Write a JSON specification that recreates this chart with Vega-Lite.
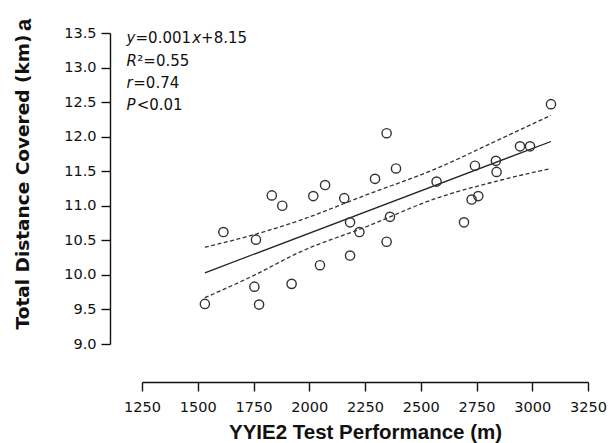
{
  "$schema": "https://vega.github.io/schema/vega-lite/v6.json",
  "width": 446,
  "height": 311,
  "autosize": {"type": "none"},
  "padding": {"left": 142, "top": 33, "right": 26, "bottom": 99},
  "background": "white",
  "resolve": {"axis": {"x": "independent", "y": "independent"}},
  "config": {
    "view": {"stroke": null},
    "axis": {"grid": false, "domainColor": "#111", "tickColor": "#111", "domainWidth": 1.4, "tickWidth": 1.4, "labelColor": "#111", "titleColor": "#111", "labelOverlap": false, "labelFlush": false, "labelFont": "DejaVu Sans", "labelFontSize": 14.5},
    "text": {"font": "DejaVu Sans", "fontSize": 15, "align": "left", "baseline": "middle", "color": "#111"}
  },
  "datasets": {
    "points": [
      {"x": 1532, "y": 9.58}, {"x": 1615, "y": 10.62}, {"x": 1761, "y": 10.51}, {"x": 1754, "y": 9.83},
      {"x": 1775, "y": 9.57}, {"x": 1832, "y": 11.15}, {"x": 1879, "y": 11.0}, {"x": 1921, "y": 9.87},
      {"x": 2018, "y": 11.14}, {"x": 2071, "y": 11.30}, {"x": 2048, "y": 10.14}, {"x": 2157, "y": 11.11},
      {"x": 2183, "y": 10.76}, {"x": 2225, "y": 10.62}, {"x": 2183, "y": 10.28}, {"x": 2295, "y": 11.39},
      {"x": 2347, "y": 12.05}, {"x": 2389, "y": 11.54}, {"x": 2362, "y": 10.84}, {"x": 2347, "y": 10.48},
      {"x": 2571, "y": 11.35}, {"x": 2743, "y": 11.58}, {"x": 2837, "y": 11.65}, {"x": 2840, "y": 11.49},
      {"x": 2945, "y": 11.86}, {"x": 2990, "y": 11.86}, {"x": 3084, "y": 12.47}, {"x": 2728, "y": 11.09},
      {"x": 2758, "y": 11.14}, {"x": 2694, "y": 10.76}
    ],
    "fit": [{"x": 1532, "y": 10.03}, {"x": 3084, "y": 11.93}],
    "band": [
      {"side": "upper", "x": 1532, "y": 10.40}, {"side": "upper", "x": 1750, "y": 10.58},
      {"side": "upper", "x": 1958, "y": 10.79}, {"side": "upper", "x": 2258, "y": 11.16},
      {"side": "upper", "x": 2571, "y": 11.54}, {"side": "upper", "x": 2833, "y": 11.93},
      {"side": "upper", "x": 3084, "y": 12.31},
      {"side": "lower", "x": 1532, "y": 9.67}, {"side": "lower", "x": 1750, "y": 9.99},
      {"side": "lower", "x": 1958, "y": 10.33}, {"side": "lower", "x": 2258, "y": 10.70},
      {"side": "lower", "x": 2571, "y": 11.11}, {"side": "lower", "x": 2833, "y": 11.35},
      {"side": "lower", "x": 3084, "y": 11.54}
    ],
    "annot": [
      {"t": "y", "k": "y1"}, {"t": "=0.001", "k": "e1"}, {"t": "x", "k": "x1"}, {"t": "+8.15", "k": "p1"},
      {"t": "R", "k": "r2"}, {"t": "²=0.55", "k": "e2"}, {"t": "r", "k": "r3"}, {"t": "=0.74", "k": "e3"},
      {"t": "P", "k": "p4"}, {"t": "<0.01", "k": "e4"}, {"t": "a", "k": "lab"}
    ]
  },
  "layer": [
    {
      "data": {"name": "band"},
      "mark": {"type": "line", "strokeDash": [4, 2.5], "color": "#333", "strokeWidth": 1.3, "interpolate": "monotone"},
      "encoding": {
        "x": {
          "field": "x", "type": "quantitative",
          "scale": {"domain": [1250, 3250], "nice": false, "zero": false},
          "axis": {
            "title": "YYIE2 Test Performance (m)", "values": [1250, 1500, 1750, 2000, 2250, 2500, 2750, 3000, 3250],
            "format": "d", "offset": 38, "tickSize": 9, "labelPadding": 9, "labelFlush": false, "labelOverlap": false,
            "titleFont": "Liberation Sans", "titleFontWeight": "bold", "titleFontSize": 20.5, "titlePadding": 9
          }
        },
        "y": {
          "field": "y", "type": "quantitative",
          "scale": {"domain": [9, 13.5], "nice": false, "zero": false},
          "axis": {
            "title": "Total Distance Covered (km)", "values": [9, 9.5, 10, 10.5, 11, 11.5, 12, 12.5, 13, 13.5],
            "format": ".1f", "offset": 32, "tickSize": 9, "labelPadding": 5, "labelOverlap": false,
            "titleFont": "DejaVu Sans", "titleFontWeight": "bold", "titleFontSize": 18.5, "titlePadding": 31, "titleY": 148.5
          }
        },
        "detail": {"field": "side"}
      }
    },
    {
      "data": {"name": "fit"},
      "mark": {"type": "line", "color": "#222", "strokeWidth": 1.3},
      "encoding": {
        "x": {"field": "x", "type": "quantitative", "scale": {"domain": [1250, 3250], "nice": false, "zero": false}, "axis": null},
        "y": {"field": "y", "type": "quantitative", "scale": {"domain": [9, 13.5], "nice": false, "zero": false}, "axis": null}
      }
    },
    {
      "data": {"name": "points"},
      "mark": {"type": "point", "shape": "circle", "filled": false, "size": 85, "strokeWidth": 1.4, "color": "#333", "opacity": 1},
      "encoding": {
        "x": {"field": "x", "type": "quantitative", "scale": {"domain": [1250, 3250], "nice": false, "zero": false}, "axis": null},
        "y": {"field": "y", "type": "quantitative", "scale": {"domain": [9, 13.5], "nice": false, "zero": false}, "axis": null}
      }
    },
    {
      "data": {"name": "annot"},
      "transform": [{"filter": "datum.k === 'y1'"}],
      "mark": {"type": "text", "fontStyle": "italic"},
      "encoding": {"text": {"field": "t"}, "x": {"datum": 1181, "axis": null}, "y": {"datum": 13.423, "axis": null}}
    },
    {
      "data": {"name": "annot"},
      "transform": [{"filter": "datum.k === 'e1'"}],
      "mark": {"type": "text"},
      "encoding": {"text": {"field": "t"}, "x": {"datum": 1221, "axis": null}, "y": {"datum": 13.423, "axis": null}}
    },
    {
      "data": {"name": "annot"},
      "transform": [{"filter": "datum.k === 'x1'"}],
      "mark": {"type": "text", "fontStyle": "italic"},
      "encoding": {"text": {"field": "t"}, "x": {"datum": 1475, "axis": null}, "y": {"datum": 13.423, "axis": null}}
    },
    {
      "data": {"name": "annot"},
      "transform": [{"filter": "datum.k === 'p1'"}],
      "mark": {"type": "text"},
      "encoding": {"text": {"field": "t"}, "x": {"datum": 1515, "axis": null}, "y": {"datum": 13.423, "axis": null}}
    },
    {
      "data": {"name": "annot"},
      "transform": [{"filter": "datum.k === 'r2'"}],
      "mark": {"type": "text", "fontStyle": "italic"},
      "encoding": {"text": {"field": "t"}, "x": {"datum": 1181, "axis": null}, "y": {"datum": 13.095, "axis": null}}
    },
    {
      "data": {"name": "annot"},
      "transform": [{"filter": "datum.k === 'e2'"}],
      "mark": {"type": "text"},
      "encoding": {"text": {"field": "t"}, "x": {"datum": 1229, "axis": null}, "y": {"datum": 13.095, "axis": null}}
    },
    {
      "data": {"name": "annot"},
      "transform": [{"filter": "datum.k === 'r3'"}],
      "mark": {"type": "text", "fontStyle": "italic"},
      "encoding": {"text": {"field": "t"}, "x": {"datum": 1181, "axis": null}, "y": {"datum": 12.782, "axis": null}}
    },
    {
      "data": {"name": "annot"},
      "transform": [{"filter": "datum.k === 'e3'"}],
      "mark": {"type": "text"},
      "encoding": {"text": {"field": "t"}, "x": {"datum": 1211, "axis": null}, "y": {"datum": 12.782, "axis": null}}
    },
    {
      "data": {"name": "annot"},
      "transform": [{"filter": "datum.k === 'p4'"}],
      "mark": {"type": "text", "fontStyle": "italic"},
      "encoding": {"text": {"field": "t"}, "x": {"datum": 1181, "axis": null}, "y": {"datum": 12.46, "axis": null}}
    },
    {
      "data": {"name": "annot"},
      "transform": [{"filter": "datum.k === 'e4'"}],
      "mark": {"type": "text"},
      "encoding": {"text": {"field": "t"}, "x": {"datum": 1226, "axis": null}, "y": {"datum": 12.46, "axis": null}}
    },
    {
      "data": {"name": "annot"},
      "transform": [{"filter": "datum.k === 'lab'"}],
      "mark": {"type": "text", "font": "Liberation Sans", "fontWeight": "bold", "fontSize": 22, "angle": 270, "align": "center"},
      "encoding": {"text": {"field": "t"}, "x": {"datum": 721, "axis": null}, "y": {"datum": 13.616, "axis": null}}
    }
  ]
}
